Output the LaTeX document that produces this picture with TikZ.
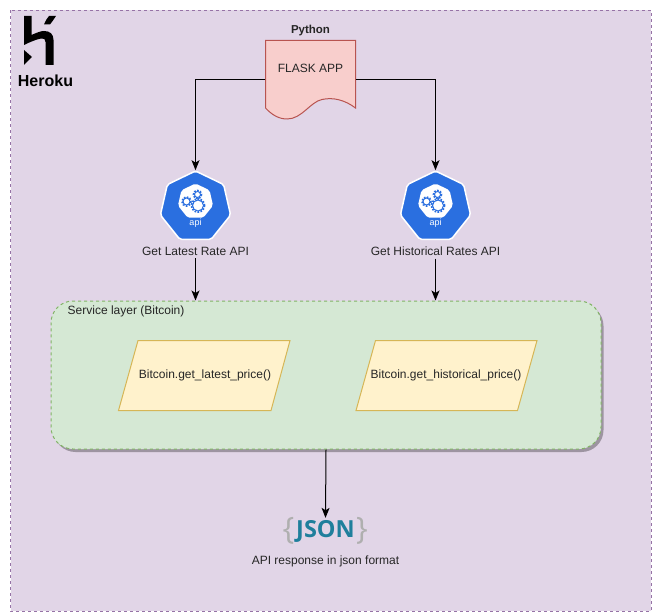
\documentclass[tikz,border=0pt]{standalone}
\usepackage{fontspec}
\setmainfont{Liberation Sans}
\newfontfamily\jsonfont{Open Sans}
\usetikzlibrary{arrows.meta,shapes.geometric,shadows,calc}

\definecolor{herokubg}{HTML}{E1D5E7}
\definecolor{herokuline}{HTML}{9673A6}
\definecolor{servicebg}{HTML}{D5E8D4}
\definecolor{serviceline}{HTML}{82B366}
\definecolor{pricebg}{HTML}{FFF2CC}
\definecolor{priceline}{HTML}{D6B656}
\definecolor{flaskbg}{HTML}{F8CECC}
\definecolor{flaskline}{HTML}{B85450}
\definecolor{apiblue}{HTML}{2A6FE0}
\definecolor{jsonteal}{HTML}{1F7F9C}
\definecolor{jsongray}{HTML}{AFAFAF}

\tikzset{
	txt/.style={font=\fontsize{12}{14}\selectfont, text=black!85, inner sep=0pt},
	pricebox/.style={fill=pricebg, draw=priceline, line width=1pt},
	link/.style={-{Stealth[length=10pt,width=8pt,inset=2.5pt]}, black, line width=1pt},
	hepta/.style={regular polygon, regular polygon sides=7, inner sep=0pt, rounded corners=2pt},
	gearline/.style={apiblue, line width=1pt},
	bracetxt/.style={font=\jsonfont\fontsize{31}{33}\selectfont, text=jsongray, inner sep=0pt},
}

% one gear of the api icon: teeth are a dashed ring
\newcommand{\apigear}[3]{
	\draw[gearline] (#1,#2) circle(#3);
	\draw[apiblue, line width=1.8pt, dash pattern=on 1.6pt off 1.4pt] (#1,#2) circle(#3+1);
}

% blue heptagon with its white inner part: name, x, y
\newcommand{\apiicon}[3]{
	\node[hepta, minimum size=72pt, fill=apiblue, draw=white, line width=1.5pt] (#1) at (#2,#3) {};
	\node[hepta, minimum size=36pt, fill=white] (#1inner) at (#2,#3-5.5) {};
	\apigear{#2-9}{#3-5.5}{3.5}
	\apigear{#2+2}{#3-12.5}{3}
	\apigear{#2+2.5}{#3-1.5}{5.5}
	\node[font=\fontsize{9}{10}\selectfont, text=white, inner sep=0pt] (#1api) at (#2,#3+16) {api};
}

\begin{document}
\begin{tikzpicture}[x=1pt,y=-1pt]

	\useasboundingbox (0,0) rectangle (652,612);

	% heroku box
	\draw[draw=herokuline, fill=herokubg, line width=1pt, dash pattern=on 3pt off 3pt] (10.5,10.5) rectangle (651,611);

	% heroku logo
	\fill[black] (24,16) -- (31.5,16) -- (31.5,35) .. controls (37,32.5) and (41,31) .. (44,31)
		.. controls (50,31) and (53.5,34) .. (53.5,40) -- (53.5,65) -- (45.5,65) -- (45.5,42)
		.. controls (45.5,39) and (44,38) .. (41,38.5) .. controls (36,39.5) and (30,42) .. (24,45) -- cycle;
	\fill[black] (44,24.5) .. controls (45.5,21) and (47,18) .. (49,16) -- (56,16) .. controls (54,19) and (52,22) .. (50,24.5) -- cycle;
	\fill[black] (24,50) -- (32,57) -- (24,65) -- cycle;
	\node[font=\bfseries\fontsize{16}{18}\selectfont, inner sep=0pt] (heroku) at (45.5,81) {Heroku};

	% flask document
	\draw[draw=flaskline, fill=flaskbg, line width=1pt] (265.5,40.5) -- (355.5,40.5) -- (355.5,108)
		.. controls (345,100) and (333,97) .. (322,99.5) .. controls (310,102) and (302,119) .. (287,119)
		.. controls (279,119) and (272,115) .. (265.5,108) -- cycle;
	\node[txt, minimum width=90pt, minimum height=80pt] (flask) at (310.5,80) {\raisebox{23.5pt}{FLASK APP}};
	\node[txt, font=\bfseries\fontsize{11.5}{13}\selectfont] (python) at (310.5,31) {Python};

	% api icons
	\apiicon{latest}{195.5}{207}
	\apiicon{historical}{435.5}{207}
	\node[txt] (latestlabel) at (195.5,251) {Get Latest Rate API};
	\node[txt] (historicallabel) at (435.5,251) {Get Historical Rates API};

	% service layer
	\node[minimum width=550pt, minimum height=148pt, inner sep=0pt, rounded corners=22pt, fill=servicebg, draw=serviceline,
		line width=1pt, dash pattern=on 3pt off 3pt,
		drop shadow={shadow xshift=2.5pt, shadow yshift=-3pt, fill=black, opacity=0.3}] (service) at (326,375) {};
	\node[txt, anchor=west] (servicelabel) at (67.5,311) {Service layer (Bitcoin)};
	\draw[pricebox] (118.5,410.5) -- (138,340.5) -- (290,340.5) -- (271,410.5) -- cycle;
	\draw[pricebox] (356,410.5) -- (375.5,340.5) -- (537,340.5) -- (517.5,410.5) -- cycle;
	\node[txt] (latestprice) at (205,375.5) {Bitcoin.get\_latest\_price()};
	\node[txt] (historicalprice) at (446,375.5) {Bitcoin.get\_historical\_price()};

	% json
	\node[font=\jsonfont\bfseries\fontsize{23.5}{28}\selectfont, text=jsonteal, inner sep=0pt] (json) at (325.5,531) {JSON};
	\node[bracetxt] (bracel) at (288.5,531) {\{};
	\node[bracetxt] (bracer) at (362,531) {\}};
	\node[txt] (jsonlabel) at (325.5,561) {API response in json format};

	% connectors
	\draw[link] (flask.west) -| (latest.north);
	\draw[link] (flask.east) -| (historical.north);
	\draw[link] ($(latestlabel.south)+(0,3)$) -- (latestlabel.south |- service.north);
	\draw[link] ($(historicallabel.south)+(0,3)$) -- (historicallabel.south |- service.north);
	\draw[link] (service.south) -- ($(json.north)+(0,-2)$);

\end{tikzpicture}
\end{document}
